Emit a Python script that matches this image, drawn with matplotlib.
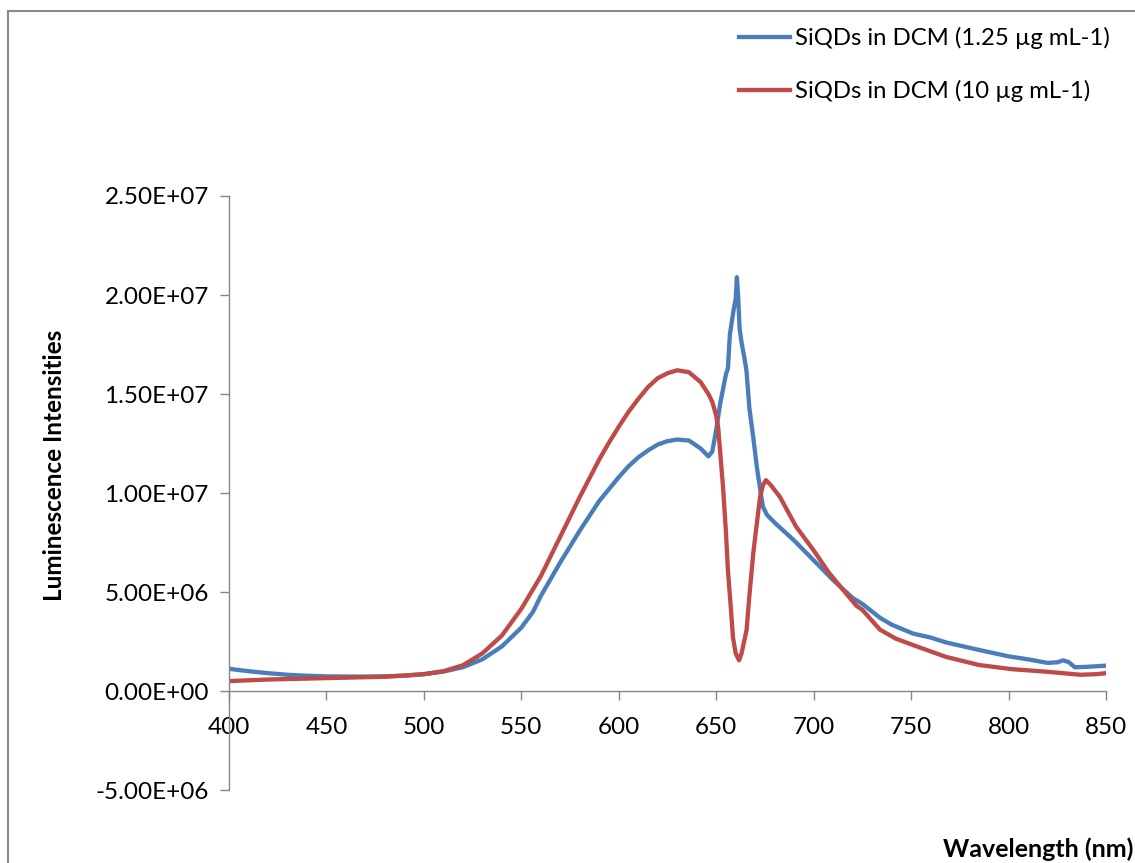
import numpy as np
import matplotlib
matplotlib.use("Agg")
import matplotlib.pyplot as plt
from matplotlib.lines import Line2D
from matplotlib.ticker import FuncFormatter

plt.rcParams['font.family'] = ['Lato', 'DejaVu Sans']

# wavelength (nm) and intensity (x1e6)
wl_low = [400, 410, 420, 430, 440, 450, 460, 470, 480, 490, 500, 510, 520,
          530, 540, 550, 556, 560, 570, 580, 590, 600, 605, 610, 615, 620,
          625, 630, 636, 642, 646, 648, 650, 652, 653, 655, 656, 657, 659,
          660, 660.6, 661.2, 662, 663, 664.5, 665.5, 667, 669, 671, 673, 674,
          676, 680, 690, 700, 710, 720, 725, 734, 740, 751, 760, 768, 785,
          800, 810, 820, 825, 828, 831, 834, 840, 850]
int_low = [1.12, 1.0, 0.9, 0.82, 0.77, 0.74, 0.73, 0.73, 0.74, 0.77, 0.85,
           0.98, 1.2, 1.6, 2.25, 3.2, 4.0, 4.8, 6.5, 8.1, 9.6, 10.8, 11.35,
           11.8, 12.15, 12.45, 12.62, 12.7, 12.65, 12.25, 11.85, 12.1, 13.2,
           14.5, 15.0, 16.0, 16.3, 18.0, 19.3, 19.8, 20.9, 20.0, 18.3, 17.6,
           16.8, 16.2, 14.3, 12.8, 11.2, 9.9, 9.3, 8.9, 8.5, 7.6, 6.6, 5.6,
           4.7, 4.4, 3.7, 3.35, 2.9, 2.7, 2.45, 2.07, 1.75, 1.6, 1.42, 1.45,
           1.55, 1.45, 1.2, 1.22, 1.28]

wl_high = [400, 420, 450, 480, 500, 510, 520, 530, 540, 550, 560, 570, 580,
           590, 595, 600, 605, 610, 615, 620, 625, 630, 636, 642, 646, 648,
           650, 651, 652.5, 653.5, 655, 656, 657.5, 658.6, 660, 661.7, 663,
           665.6, 667, 669, 671, 672.5, 674, 675.5, 678, 682.7, 691, 700, 708,
           716, 722, 725, 734, 742, 751, 760, 768, 785, 802, 820, 837, 845,
           850]
int_high = [0.5, 0.58, 0.65, 0.72, 0.85, 1.0, 1.3, 1.9, 2.8, 4.15, 5.8, 7.8,
            9.8, 11.7, 12.55, 13.35, 14.1, 14.75, 15.35, 15.8, 16.05, 16.2,
            16.1, 15.6, 15.0, 14.6, 13.9, 13.3, 11.5, 10.3, 8.0, 6.1, 4.2,
            2.7, 1.9, 1.55, 1.9, 3.1, 4.8, 6.95, 8.6, 9.8, 10.4, 10.65, 10.4,
            9.8, 8.3, 7.1, 5.95, 5.0, 4.3, 4.1, 3.1, 2.65, 2.32, 2.0, 1.72,
            1.31, 1.1, 0.97, 0.82, 0.85, 0.9]

labels = ['SiQDs in DCM (1.25 µg mL-1)', 'SiQDs in DCM (10 µg mL-1)']
colors = ['#4A7EBB', '#BE4B48']

W, H = 1135, 863
fig = plt.figure(figsize=(W / 100, H / 100), dpi=100)
ax = fig.add_axes([229 / W, 1 - 790 / H, (1106 - 229) / W, (790 - 196) / H])

ax.plot(wl_low, np.array(int_low) * 1e6, color=colors[0], lw=3.1, label=labels[0])
ax.plot(wl_high, np.array(int_high) * 1e6, color=colors[1], lw=3.1, label=labels[1])

ax.set_xlim(400, 850)
ax.set_ylim(-5e6, 2.5e7)
ax.set_xticks(np.arange(400, 851, 50))
ax.set_yticks(np.arange(-5e6, 2.51e7, 5e6))
ax.yaxis.set_major_formatter(FuncFormatter(lambda v, p: f"{v:.2E}"))

grey = '#868686'
for s in ['top', 'right']:
    ax.spines[s].set_visible(False)
ax.spines['bottom'].set_position(('data', 0))
for s in ['left', 'bottom']:
    ax.spines[s].set_color(grey)
    ax.spines[s].set_linewidth(1.0)
ax.tick_params(axis='both', direction='out', length=6.5, width=1.0, color=grey,
               labelsize=17.5, labelcolor='black')
ax.tick_params(axis='y', pad=8)
ax.tick_params(axis='x', pad=12)

fig.text(54 / W, 1 - 465 / H, 'Luminescence Intensities', rotation=90,
         ha='center', va='center', fontsize=17.5, fontweight='bold')
fig.text(1133 / W, 1 - 849 / H, 'Wavelength (nm)', ha='right', va='center',
         fontsize=18, fontweight='bold')

ax.legend(loc='upper left', bbox_to_anchor=(739 / W, 1 - 27 / H),
          bbox_transform=fig.transFigure, frameon=False, fontsize=17.2,
          handlelength=2.15, handletextpad=0.2, labelspacing=1.3,
          borderpad=0, borderaxespad=0)

# chart area border (left and top edges visible)
fig.add_artist(Line2D([8 / W, 8 / W], [0, 1 - 11 / H], transform=fig.transFigure,
                      color='#8a8a8a', lw=1.5))
fig.add_artist(Line2D([8 / W, 1], [1 - 11 / H, 1 - 11 / H], transform=fig.transFigure,
                      color='#8a8a8a', lw=1.5))

fig.savefig('out.png', dpi=100)
